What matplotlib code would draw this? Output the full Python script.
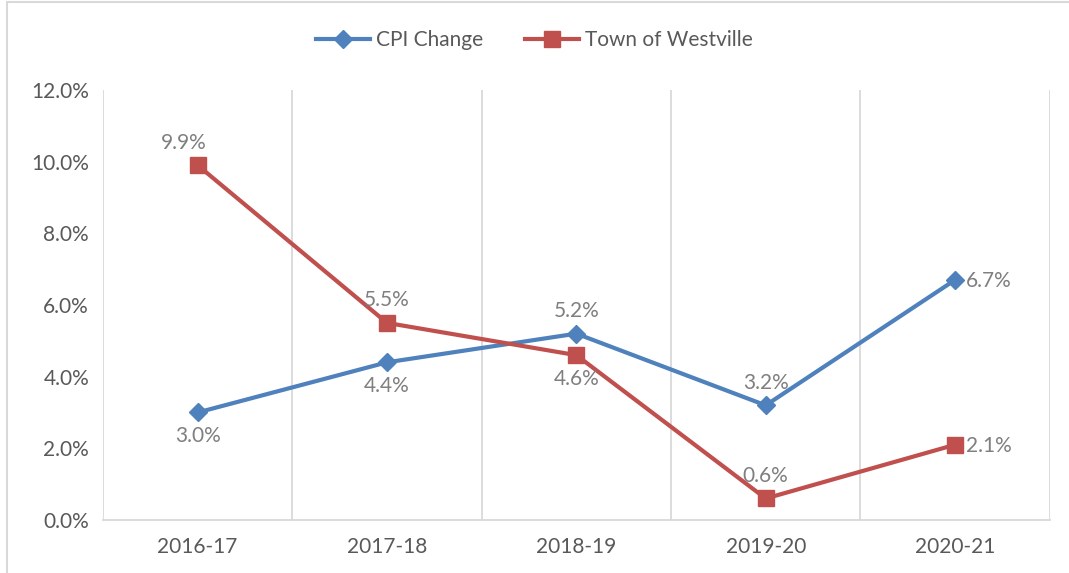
import matplotlib
matplotlib.use("Agg")
import matplotlib.pyplot as plt
from matplotlib.patches import Rectangle

# data
years = ["2016-17", "2017-18", "2018-19", "2019-20", "2020-21"]
cpi_change = [3.0, 4.4, 5.2, 3.2, 6.7]
westville = [9.9, 5.5, 4.6, 0.6, 2.1]
cpi_label_pos = ["below", "below", "above", "above", "right"]
west_label_pos = ["aboveleft", "above", "below", "above", "right"]

plt.rcParams['font.family'] = ['Lato', 'DejaVu Sans']

blue = "#4F81BD"
red = "#C0504D"
label_gray = "#7F7F7F"
tick_gray = "#595959"
grid_gray = "#D9D9D9"

fig = plt.figure(figsize=(10.69, 5.73), dpi=100)
ax = fig.add_axes([0.0963, 0.0925, 0.8857, 0.7505])

# outer chart border (top and left visible in the reference crop)
fig.patches.append(Rectangle((7 / 1069, -0.1), 1.2, 1.1 - 2 / 573, transform=fig.transFigure,
                             fill=False, edgecolor=grid_gray, linewidth=1.5))

x = list(range(len(years)))
ax.plot(x, cpi_change, color=blue, linewidth=3, marker="D", markersize=9,
        label="CPI Change", zorder=3)
ax.plot(x, westville, color=red, linewidth=3, marker="s", markersize=11,
        label="Town of Westville", zorder=3)

def add_labels(vals, positions):
    for xi, v, p in zip(x, vals, positions):
        txt = f"{v:.1f}%"
        kw = dict(textcoords="offset points", fontsize=15, color=label_gray)
        if p == "above":
            ax.annotate(txt, (xi, v), xytext=(0, 9), ha="center", va="bottom", **kw)
        elif p == "aboveleft":
            ax.annotate(txt, (xi, v), xytext=(-10, 9), ha="center", va="bottom", **kw)
        elif p == "below":
            ax.annotate(txt, (xi, v), xytext=(0, -10), ha="center", va="top", **kw)
        else:
            ax.annotate(txt, (xi, v), xytext=(8, -1), ha="left", va="center", **kw)

add_labels(cpi_change, cpi_label_pos)
add_labels(westville, west_label_pos)

ax.set_xlim(-0.5, len(years) - 0.5)
ax.set_ylim(0, 12)
ax.set_yticks([0, 2, 4, 6, 8, 10, 12])
ax.set_yticklabels([f"{t:.1f}%" for t in [0, 2, 4, 6, 8, 10, 12]])
ax.set_xticks(x)
ax.set_xticklabels(years)

# vertical gridlines at category boundaries
for b in [i - 0.5 for i in range(len(years) + 1)]:
    ax.axvline(b, color=grid_gray, linewidth=1.3, zorder=1)

for s in ["top", "left", "right"]:
    ax.spines[s].set_visible(False)
ax.spines["bottom"].set_color(grid_gray)
ax.spines["bottom"].set_linewidth(1.3)

ax.tick_params(axis="both", length=0, labelsize=15, colors=tick_gray)
ax.tick_params(axis="x", pad=12)
ax.tick_params(axis="y", pad=10)

fig.legend(loc="upper center", bbox_to_anchor=(0.5, 0.98), ncol=2, frameon=False,
           fontsize=15, handlelength=2.6, handletextpad=0.3, columnspacing=2.0,
           labelcolor=tick_gray)

plt.savefig("out.png", dpi=100)
